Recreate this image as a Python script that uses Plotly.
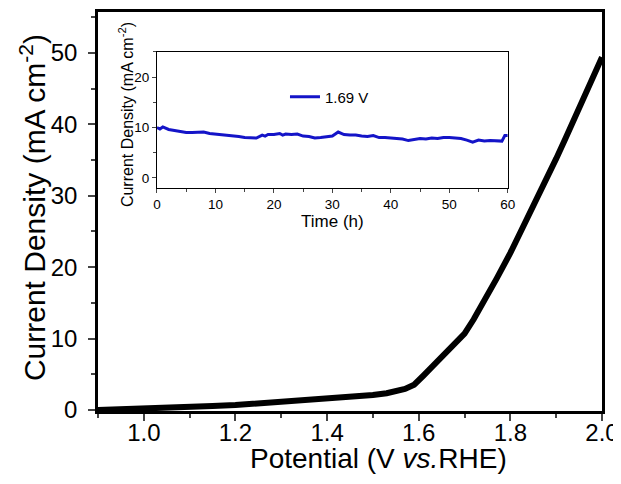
import plotly.graph_objects as go

# polarization curve
potential = [0.90, 0.95, 1.00, 1.05, 1.10, 1.15, 1.20, 1.25, 1.30, 1.35, 1.40, 1.45,
             1.50, 1.53, 1.55, 1.57, 1.59, 1.60, 1.61, 1.63, 1.65, 1.67, 1.70, 1.72,
             1.75, 1.77, 1.80, 1.82, 1.85, 1.87, 1.90, 1.92, 1.95, 1.97, 2.00]
current = [0.0, 0.08, 0.15, 0.28, 0.40, 0.55, 0.70, 0.90, 1.10, 1.35, 1.60, 1.85,
           2.10, 2.35, 2.60, 2.95, 3.55, 4.10, 4.80, 6.10, 7.40, 8.80, 10.7, 12.7,
           16.0, 18.4, 22.0, 24.6, 28.3, 30.9, 35.2, 38.0, 42.4, 45.4, 49.4]

# stability test at 1.69 V
time_h = [0, 0.5, 1, 1.5, 2, 3, 4, 5, 6, 7, 8, 9, 10, 11, 12, 13, 14, 15, 16, 17,
          18, 18.5, 19, 20, 21, 21.5, 22, 23, 24, 25, 26, 27, 28, 29, 30, 31, 31.5,
          32, 33, 34, 35, 36, 37, 38, 39, 40, 41, 42, 43, 44, 45, 46, 47, 48, 49,
          50, 51, 52, 53, 54, 55, 56, 57, 58, 59, 59.5, 60]
density = [10.0, 9.7, 10.1, 9.8, 9.6, 9.4, 9.2, 9.0, 9.0, 9.0, 9.1, 8.8, 8.7, 8.6,
           8.4, 8.3, 8.2, 8.0, 7.9, 7.9, 8.5, 8.3, 8.6, 8.6, 8.8, 8.5, 8.7, 8.6,
           8.7, 8.3, 8.2, 7.9, 8.0, 8.2, 8.3, 9.1, 8.8, 8.6, 8.5, 8.5, 8.3, 8.2,
           8.4, 8.0, 8.0, 7.9, 7.8, 7.7, 7.4, 7.6, 7.8, 7.7, 7.9, 7.8, 8.0, 8.0,
           7.9, 7.8, 7.5, 7.1, 7.5, 7.3, 7.4, 7.4, 7.3, 8.4, 8.4]

font = "Liberation Sans, Arial, sans-serif"

fig = go.Figure()
fig.add_trace(go.Scatter(x=potential, y=current, mode="lines",
                         line=dict(color="black", width=6), showlegend=False))
fig.add_trace(go.Scatter(x=time_h, y=density, mode="lines", name="1.69 V",
                         line=dict(color="#1414c8", width=3),
                         xaxis="x2", yaxis="y2"))

# page body has an 8px margin, so the figure is 8px smaller than the window
fig.update_layout(
    width=613, height=476,
    margin=dict(l=90, r=19, t=4, b=73),
    paper_bgcolor="white", plot_bgcolor="white",
    font=dict(family=font, color="black"),
    xaxis=dict(range=[0.9, 2.0], tick0=1.0, dtick=0.2, tickformat=".1f",
               ticks="outside", ticklen=7, tickwidth=2, showline=True,
               linewidth=2.5, linecolor="black", mirror=True, showgrid=False,
               zeroline=False, tickfont=dict(size=24), automargin=False,
               ticklabelstandoff=-9,
               minor=dict(ticks="outside", ticklen=4, tickwidth=2, dtick=0.1,
                          tick0=1.0)),
    yaxis=dict(range=[-0.14, 55.74], tick0=0, dtick=10,
               ticks="outside", ticklen=7, tickwidth=2, showline=True,
               linewidth=2.5, linecolor="black", mirror=True, showgrid=False,
               zeroline=False, tickfont=dict(size=24), automargin=False,
               ticklabelstandoff=6,
               minor=dict(ticks="outside", ticklen=4, tickwidth=2, dtick=5)),
    xaxis2=dict(domain=[0.117, 0.813], anchor="y2", range=[0, 60], dtick=10,
                ticks="outside", ticklen=4, tickwidth=1, showline=True,
                linewidth=1, linecolor="black", mirror=True, showgrid=False,
                zeroline=False, tickfont=dict(size=13.5), automargin=False,
                title=dict(text="Time (h)", font=dict(size=17), standoff=0),
                minor=dict(ticks="outside", ticklen=3, tickwidth=1, dtick=5)),
    yaxis2=dict(domain=[0.559, 0.900], anchor="x2", range=[-2, 25], dtick=10,
                ticks="outside", ticklen=4, tickwidth=1, showline=True,
                linewidth=1, linecolor="black", mirror=True, showgrid=False,
                zeroline=False, tickfont=dict(size=13.5), automargin=False,
                minor=dict(ticks="outside", ticklen=3, tickwidth=1, dtick=5)),
    legend=dict(x=0.371, y=0.787, xanchor="left", yanchor="middle",
                bgcolor="rgba(0,0,0,0)", font=dict(size=15)),
    annotations=[
        dict(text="Potential (V <i>vs.</i>RHE)", x=0.556, y=-0.1203,
             xref="paper", yref="paper", showarrow=False, yanchor="middle",
             font=dict(size=28)),
        dict(text="Current Density (mA cm<sup>-2</sup>)", x=-0.129, y=0.511,
             xref="paper", yref="paper", showarrow=False, textangle=-90,
             xanchor="center", yanchor="middle", font=dict(size=30)),
        dict(text="Current Density (mA cm<sup>-2</sup>)", x=0.0555, y=0.744,
             xref="paper", yref="paper", showarrow=False, textangle=-90,
             xanchor="center", yanchor="middle", font=dict(size=16)),
    ],
)

fig.write_html("out.html")
